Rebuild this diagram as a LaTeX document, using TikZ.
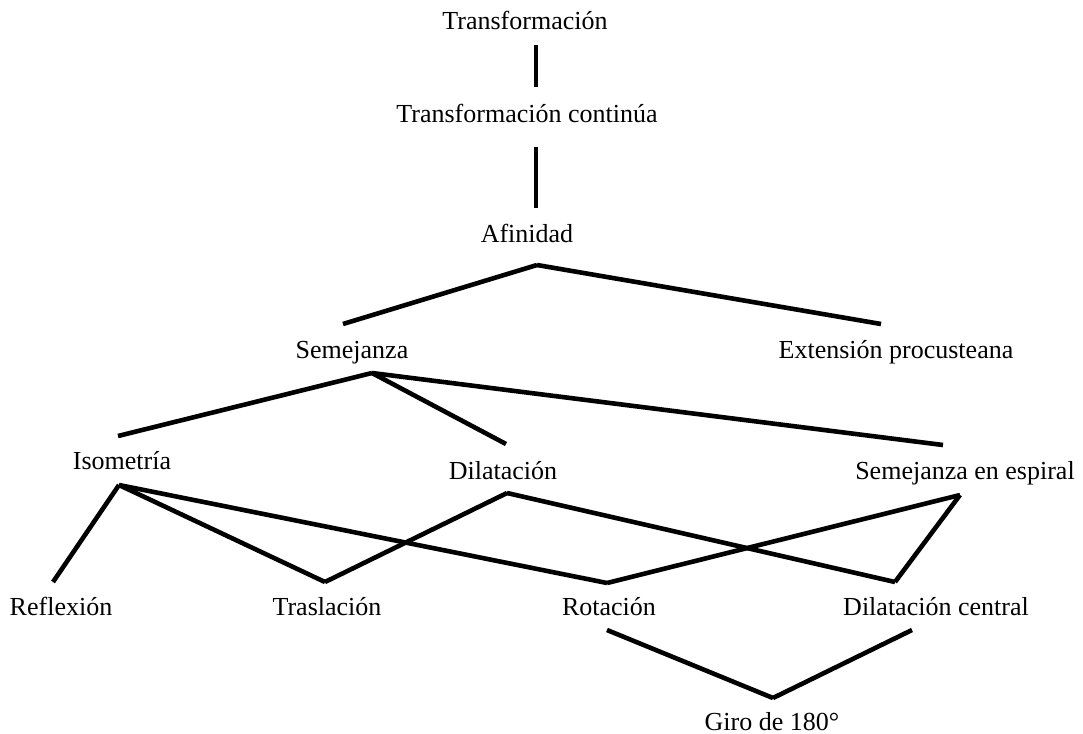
\documentclass[tikz,border=0pt]{standalone}
\usepackage{fontspec}
\setmainfont{Liberation Serif}
\begin{document}
\begin{tikzpicture}[x=0.5pt,y=-0.5pt,
  lbl/.style={anchor=base,inner sep=0pt,font=\fontsize{13}{15}\selectfont},
  link/.style={line width=2.3pt,black}]
\useasboundingbox (0,0) rectangle (1083,734);
% labels
\node[lbl] (t)   at (525,29)  {Transformación};
\node[lbl] (tc)  at (527,122) {Transformación continúa};
\node[lbl] (af)  at (527,242) {Afinidad};
\node[lbl] (se)  at (352,358) {Semejanza};
\node[lbl] (ep)  at (896,358) {Extensión procusteana};
\node[lbl] (is)  at (122,469) {Isometría};
\node[lbl] (di)  at (503,479) {Dilatación};
\node[lbl] (es)  at (965,479) {Semejanza en espiral};
\node[lbl] (re)  at (61,615)  {Reflexión};
\node[lbl] (tr)  at (327,615) {Traslación};
\node[lbl] (ro)  at (609,615) {Rotación};
\node[lbl] (dc)  at (936,615) {Dilatación central};
\node[lbl] (gi)  at (772,730) {Giro de 180°};
% connector end points
\coordinate (t-b)  at (536,45);
\coordinate (tc-t) at (536,87);
\coordinate (tc-b) at (536,147);
\coordinate (af-t) at (536,208);
\coordinate (af-b) at (537,265);
\coordinate (se-t) at (343,324);
\coordinate (ep-t) at (881,324);
\coordinate (se-b) at (372,373);
\coordinate (is-t) at (118,436);
\coordinate (di-t) at (506,444);
\coordinate (es-t) at (943,445);
\coordinate (is-b) at (119,485);
\coordinate (di-b) at (507,493);
\coordinate (es-b) at (960,495);
\coordinate (re-t) at (53,582);
\coordinate (tr-t) at (325,582);
\coordinate (ro-t) at (607,583);
\coordinate (dc-t) at (895,582);
\coordinate (ro-b) at (607,630);
\coordinate (dc-b) at (912,630);
\coordinate (gi-t) at (773,698);
% connectors
\draw[link] (t-b) -- (tc-t);
\draw[link] (tc-b) -- (af-t);
\draw[link] (af-b) -- (se-t);
\draw[link] (af-b) -- (ep-t);
\draw[link] (se-b) -- (is-t);
\draw[link] (se-b) -- (di-t);
\draw[link] (se-b) -- (es-t);
\draw[link] (is-b) -- (re-t);
\draw[link] (is-b) -- (tr-t);
\draw[link] (is-b) -- (ro-t);
\draw[link] (di-b) -- (tr-t);
\draw[link] (di-b) -- (dc-t);
\draw[link] (es-b) -- (ro-t);
\draw[link] (es-b) -- (dc-t);
\draw[link] (ro-b) -- (gi-t);
\draw[link] (dc-b) -- (gi-t);
\end{tikzpicture}
\end{document}
